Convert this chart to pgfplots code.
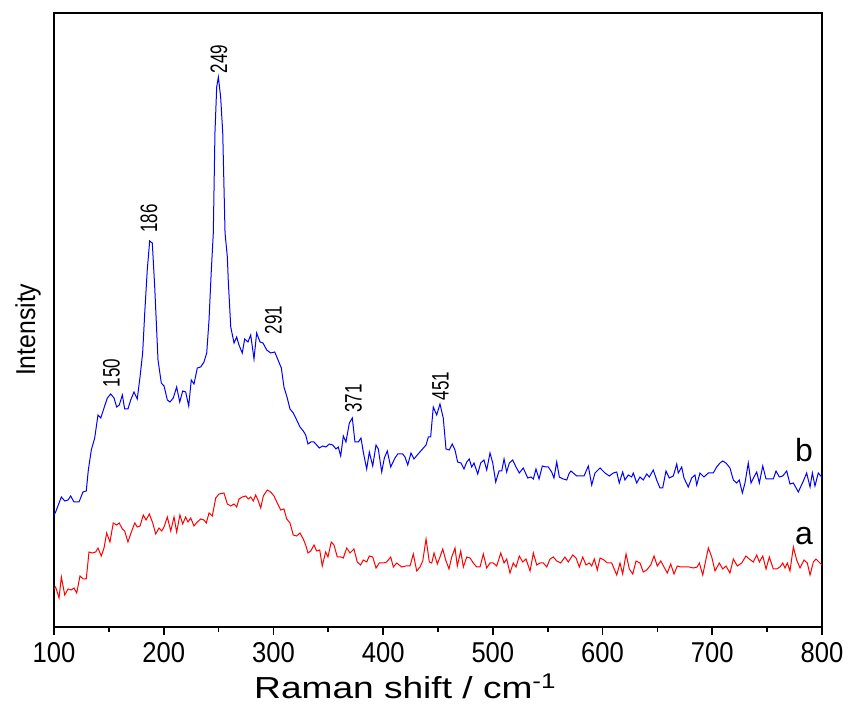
\documentclass[border=0pt]{standalone}
\usepackage{pgfplots}
\pgfplotsset{compat=1.18}
\usepackage{fontspec}
\setmainfont{Liberation Sans}
\definecolor{pblue}{RGB}{0,0,255}
\definecolor{pred}{RGB}{255,0,0}
\begin{document}
\begin{tikzpicture}
\path[use as bounding box] (-27pt,-44.5pt) rectangle (398.5pt,313.5pt);
\begin{axis}[
  scale only axis, width=384pt, height=307pt,
  xmin=100, xmax=800, ymin=0, ymax=614,
  xtick={100,200,...,800}, minor xtick={150,250,...,750},
  xtick pos=bottom, tick align=outside,
  major tick length=4pt, minor tick length=2.5pt,
  every tick/.style={black, line width=0.8pt},
  ytick=\empty,
  axis line style={line width=1pt},
  /pgf/number format/assume math mode=true,
  ticklabel style={font=\fontsize{12.8}{14}\selectfont, yscale=1.12},
  xticklabel style={yshift=0pt},
  xlabel={Raman shift / cm\textsuperscript{-1}},
  ylabel={Intensity},
  xlabel style={font=\fontsize{15.2}{17}\selectfont, at={(axis description cs:0.4577,-0.1170)}, anchor=base, xscale=1.22},
  ylabel style={font=\fontsize{12.4}{14}\selectfont, at={(axis description cs:-0.0339,0.484)}, anchor=center, yscale=1.1},
  clip=true,
]
\addplot[pblue, line width=0.5pt] table {
100.0 112
101.5 115
106.7 130
109.8 126
112.8 127
115.2 131
118.2 125
122.8 125
126.4 135
129.4 136
131.3 157
134.0 177
137.1 189
140.1 212
142.6 209
145.6 219
148.6 229
151.7 233
154.7 229
157.1 220
159.5 222
162.3 232
164.4 218
167.4 218
169.9 227
172.9 235
175.9 228
178.4 250
180.8 274
182.7 314
185.0 357
187.2 386
189.6 384
191.8 340
194.8 267
197.8 244
200.3 241
203.3 227
205.7 225
208.7 229
211.8 240
214.6 225
217.3 236
220.0 235
222.8 221
225.1 247
227.6 243
230.6 259
233.7 260
236.7 265
239.2 274
241.3 307
243.4 357
245.2 394
246.7 494
248.3 540
249.8 550
251.9 530
253.8 494
255.9 394
258.0 370
258.9 345
261.1 300
264.1 284
266.5 290
268.6 282
271.6 274
273.8 288
276.8 285
279.3 292
282.3 268
284.7 294
287.8 285
290.5 284
293.9 277
297.5 274
301.2 275
304.2 267
307.2 259
309.6 240
312.6 229
315.1 218
318.1 214
321.2 207
324.2 200
327.2 196
329.4 192
331.5 183
334.0 185
337.0 185
341.8 179
344.9 181
347.9 180
350.9 183
354.0 182
357.0 178
359.1 180
361.3 171
363.7 191
366.1 185
369.2 204
371.9 209
374.3 185
377.4 185
379.8 189
381.9 175
385.0 158
387.4 175
390.5 161
393.5 182
395.6 178
398.7 155
401.1 169
403.8 176
406.9 160
410.8 169
413.3 173
417.8 173
419.9 170
422.4 162
425.4 174
428.1 168
431.1 172
435.1 177
439.1 182
441.2 190
443.3 190
445.7 220
448.8 212
451.8 223
454.8 209
457.3 178
460.3 177
463.0 183
465.5 177
467.9 165
471.0 164
473.7 158
476.2 165
478.5 168
480.7 160
482.8 164
486.2 153
488.9 164
491.9 167
494.4 157
497.4 174
499.9 164
502.6 145
505.6 156
508.1 156
510.2 168
512.6 155
515.0 164
518.1 167
521.1 160
524.1 154
527.7 159
531.8 149
534.8 150
536.9 148
539.3 158
542.1 148
545.1 161
548.4 160
550.5 160
553.6 155
555.7 149
558.2 165
560.6 150
564.2 148
567.3 147
569.7 154
571.2 156
576.4 151
583.1 151
587.0 161
590.1 142
593.1 154
597.7 159
602.2 154
606.1 151
609.8 154
612.9 155
615.2 144
618.3 155
620.4 147
623.5 152
626.5 150
628.0 154
631.1 144
634.1 150
637.1 147
640.2 153
642.6 150
646.2 157
649.3 147
652.3 139
654.8 139
657.8 156
660.8 149
664.5 151
667.6 163
669.0 154
672.1 160
674.2 149
678.1 140
681.2 149
684.2 152
685.8 142
688.8 154
692.4 150
696.4 154
700.9 154
704.0 160
707.0 164
709.5 166
712.5 164
716.1 159
719.2 147
722.2 144
724.6 147
727.4 134
729.8 144
732.8 164
735.3 144
738.0 150
740.5 155
742.9 144
746.0 161
749.0 148
752.6 148
755.6 148
758.1 156
761.1 150
764.2 151
767.8 156
770.8 143
773.9 144
778.4 135
783.0 146
786.0 154
789.1 140
791.2 154
793.6 141
796.6 154
799.7 150
800.0 148
};
\addplot[pred, line width=0.5pt] table {
100.0 38
101.5 40
104.6 29
106.7 50
109.8 32
112.8 38
115.8 37
118.2 39
120.7 34
123.7 51
126.7 48
129.4 48
131.9 75
134.9 74
138.0 75
140.1 79
143.1 71
145.6 79
148.0 94
151.0 85
154.0 104
157.1 102
159.5 104
162.3 98
164.4 96
167.4 85
170.5 95
173.6 104
175.9 100
178.4 101
181.4 112
183.9 107
186.9 113
190.0 104
192.7 93
195.7 99
198.2 96
200.3 100
203.3 110
206.4 96
209.4 110
211.8 95
214.8 112
217.3 103
220.0 110
222.1 105
224.6 109
227.6 101
230.6 105
233.7 108
236.7 107
238.8 104
241.3 114
244.3 111
247.4 129
250.4 133
254.9 134
258.0 123
261.1 121
264.1 123
266.5 120
268.6 128
271.6 130
274.7 131
277.1 128
279.3 130
281.7 126
283.8 132
285.9 127
288.4 119
290.8 131
294.4 137
297.5 135
300.5 131
303.5 124
306.6 117
309.6 118
312.1 108
315.1 104
318.1 92
321.2 91
324.2 94
327.2 88
329.4 82
331.5 74
334.0 76
337.0 82
339.4 76
342.2 77
344.5 61
347.6 75
349.7 70
352.7 85
355.2 82
358.2 70
361.3 70
363.7 69
366.8 79
369.8 74
373.4 78
376.4 65
379.5 62
381.9 67
385.0 65
387.4 71
390.5 70
393.5 59
396.5 64
400.1 64
403.2 65
406.9 70
409.3 60
412.4 64
416.9 60
420.8 61
424.5 61
427.5 73
430.6 56
433.6 60
436.1 66
439.1 88
442.1 65
444.3 64
446.4 74
449.4 63
451.8 70
454.3 78
457.0 67
460.0 58
462.5 70
465.5 79
467.6 61
470.7 76
473.1 60
476.2 70
479.2 69
482.2 64
485.3 60
488.3 60
491.3 73
494.4 59
497.4 64
500.4 64
503.5 61
507.2 74
510.2 64
512.6 68
515.6 54
518.6 64
521.1 60
524.1 71
527.2 65
530.2 68
533.9 56
536.9 74
540.0 62
543.0 64
546.0 64
549.1 60
552.1 68
555.1 70
558.2 66
561.8 64
565.7 70
568.8 65
572.8 72
575.8 69
578.8 60
581.9 70
584.9 62
587.9 64
590.1 61
592.5 68
595.2 57
597.7 69
601.3 67
604.3 64
608.3 64
612.9 52
615.9 64
618.3 53
621.4 73
624.4 58
627.5 53
630.5 66
634.1 64
637.1 55
640.2 57
643.9 62
646.9 71
649.9 61
653.0 66
656.0 60
659.0 54
662.1 63
665.1 53
668.1 61
671.2 60
675.1 60
679.1 60
682.7 59
686.3 60
688.2 64
691.3 52
694.3 68
696.4 79
699.5 70
702.5 56
706.4 64
709.5 58
712.5 61
716.1 54
719.2 68
722.8 61
726.8 64
730.7 71
733.7 68
737.4 65
740.5 72
742.9 65
746.0 71
749.0 58
752.0 70
755.6 58
758.7 58
761.7 60
764.2 64
766.3 59
768.4 64
770.8 56
773.9 80
776.9 67
780.0 59
783.6 67
786.6 64
789.1 52
792.1 65
794.5 68
798.2 64
800.0 62
};
\begin{scope}[every node/.style={font=\fontsize{8.5}{10}\selectfont, rotate=90, yscale=1.4, inner sep=0pt}]
\node at (axis cs:152.4,254) {150};
\node at (axis cs:186.6,408.5) {186};
\node at (axis cs:250.4,568) {249};
\node at (axis cs:300.1,307) {291};
\node at (axis cs:373.0,228.5) {371};
\node at (axis cs:452.3,241) {451};
\end{scope}
\node[font=\fontsize{16}{18}\selectfont, inner sep=0pt] at (axis cs:783.6,177) {b};
\node[font=\fontsize{16}{18}\selectfont, inner sep=0pt] at (axis cs:783.6,91) {a};
\end{axis}
\end{tikzpicture}
\end{document}
